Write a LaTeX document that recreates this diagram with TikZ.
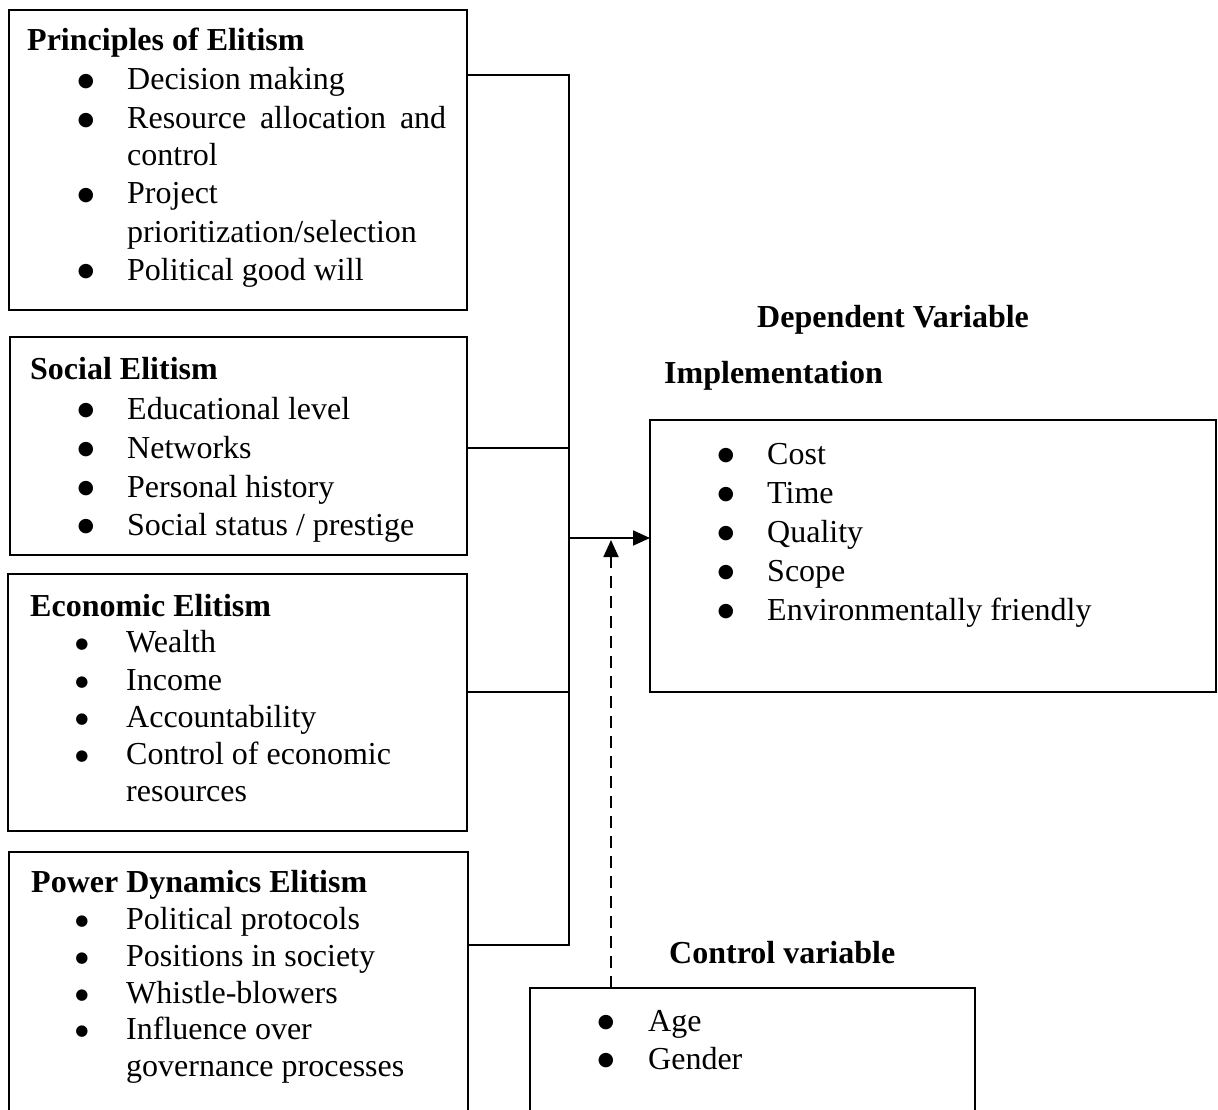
\documentclass[tikz,border=0pt]{standalone}
\usepackage{fontspec}
\setmainfont{Liberation Serif}
\newfontfamily\dotfont{DejaVu Sans}
\usetikzlibrary{arrows.meta}
\begin{document}
\begin{tikzpicture}[x=1pt,y=-1pt,
  box/.style={draw, line width=1.8pt, rectangle, anchor=north west, inner sep=0pt, outer sep=0pt},
  txt/.style={anchor=base west, inner sep=0pt, font=\fontsize{32}{38}\selectfont},
  hd/.style={anchor=base west, inner sep=0pt, font=\fontsize{32}{38}\selectfont\bfseries},
  bdot/.style={anchor=center, inner sep=0pt, yshift=-2pt, font=\dotfont\fontsize{19}{22}\selectfont},
  sdot/.style={anchor=center, inner sep=0pt, yshift=-2pt, font=\dotfont\fontsize{15}{18}\selectfont},
  conn/.style={line width=1.8pt},
  tip/.style={-{Triangle[length=17pt,width=15pt]}},
]
\useasboundingbox (0,0) rectangle (1218,1110);
\clip (0,0) rectangle (1218,1110);

% boxes
\node[box, minimum width=458pt, minimum height=300pt] (b1) at (9,10) {};
\node[box, minimum width=457pt, minimum height=218pt] (b2) at (10,337) {};
\node[box, minimum width=459pt, minimum height=257pt] (b3) at (8,574) {};
\node[box, minimum width=459pt, minimum height=300pt] (b4) at (9,852) {};
\node[box, minimum width=566pt, minimum height=272pt] (impl) at (650,420) {};
\node[box, minimum width=445pt, minimum height=200pt] (ctrl) at (530,988) {};

% box 1
\node[hd] (h1) at (27,51) {Principles of Elitism};
\node[bdot] (d1a) at (86,80) {●};
\node[txt] (t1a) at (127,90) {Decision making};
\node[bdot] (d1b) at (86,119) {●};
\node[txt] (t1b) at (127,129) {\makebox[319pt][s]{Resource allocation and}};
\node[txt] (t1c) at (127,166) {control};
\node[bdot] (d1d) at (86,194) {●};
\node[txt] (t1d) at (127,204) {Project};
\node[txt] (t1e) at (127,242) {prioritization/selection};
\node[bdot] (d1f) at (86,270) {●};
\node[txt] (t1f) at (127,280) {Political good will};

% box 2
\node[hd] (h2) at (30,379) {Social Elitism};
\node[bdot] (d2a) at (86,409) {●};
\node[txt] (t2a) at (127,419) {Educational level};
\node[bdot] (d2b) at (86,448) {●};
\node[txt] (t2b) at (127,458) {Networks};
\node[bdot] (d2c) at (86,487) {●};
\node[txt] (t2c) at (127,497) {Personal history};
\node[bdot] (d2d) at (86,525) {●};
\node[txt] (t2d) at (127,535) {Social status / prestige};

% box 3
\node[hd] (h3) at (30,616) {Economic Elitism};
\node[sdot] (d3a) at (82,643) {●};
\node[txt] (t3a) at (126,652) {Wealth};
\node[sdot] (d3b) at (82,681) {●};
\node[txt] (t3b) at (126,690) {Income};
\node[sdot] (d3c) at (82,718) {●};
\node[txt] (t3c) at (126,727) {Accountability};
\node[sdot] (d3d) at (82,755) {●};
\node[txt] (t3d) at (126,764) {Control of economic};
\node[txt] (t3e) at (126,801) {resources};

% box 4
\node[hd] (h4) at (31,892) {Power Dynamics Elitism};
\node[sdot] (d4a) at (82,920) {●};
\node[txt] (t4a) at (126,929) {Political protocols};
\node[sdot] (d4b) at (82,957) {●};
\node[txt] (t4b) at (126,966) {Positions in society};
\node[sdot] (d4c) at (82,994) {●};
\node[txt] (t4c) at (126,1003) {Whistle-blowers};
\node[sdot] (d4d) at (82,1030) {●};
\node[txt] (t4d) at (126,1039) {Influence over};
\node[txt] (t4e) at (126,1076) {governance processes};

% implementation
\node[hd] (dep) at (757,327) {Dependent Variable};
\node[hd] (imp) at (664,383) {Implementation};
\node[bdot] (e1) at (726,454) {●};
\node[txt] (i1) at (767,464) {Cost};
\node[bdot] (e2) at (726,493) {●};
\node[txt] (i2) at (767,503) {Time};
\node[bdot] (e3) at (726,532) {●};
\node[txt] (i3) at (767,542) {Quality};
\node[bdot] (e4) at (726,571) {●};
\node[txt] (i4) at (767,581) {Scope};
\node[bdot] (e5) at (726,610) {●};
\node[txt] (i5) at (767,620) {Environmentally friendly};

% control
\node[hd] (cv) at (669,963) {Control variable};
\node[bdot] (f1) at (606,1021) {●};
\node[txt] (c1) at (648,1031) {Age};
\node[bdot] (f2) at (606,1059) {●};
\node[txt] (c2) at (648,1069) {Gender};

% connectors
\coordinate (j1) at (569,75);
\coordinate (j2) at (569,448);
\coordinate (j3) at (569,692);
\coordinate (j4) at (569,945);
\coordinate (jm) at (569,538);
\coordinate (dt) at (611,540);
\draw[conn] (b1.east |- j1) -- (j1) -- (j4) -- (b4.east |- j4);
\draw[conn] (b2.east |- j2) -- (j2);
\draw[conn] (b3.east |- j3) -- (j3);
\draw[conn, tip] (jm) -- (impl.west |- jm);
\draw[conn, tip, dash pattern=on 12pt off 8pt] (dt |- ctrl.north) -- (dt);
\end{tikzpicture}
\end{document}
